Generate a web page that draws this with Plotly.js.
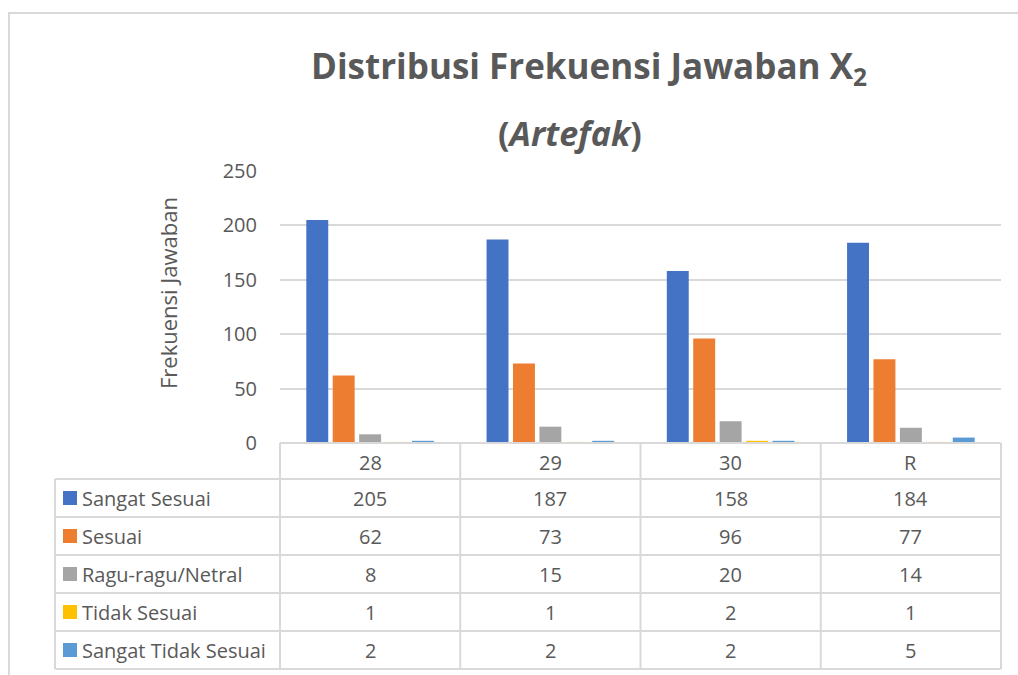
<!DOCTYPE html>
<html>
<head>
<meta charset="utf-8">
<script src="https://cdn.plot.ly/plotly-3.0.1.min.js"></script>
<style>html,body{margin:0;padding:0;background:#fff;}#chart{width:1018px;height:675px;}</style>
</head>
<body>
<div id="chart"></div>
<script>
const categories = ['28', '29', '30', 'R'];
const seriesNames = ['Sangat Sesuai', 'Sesuai', 'Ragu-ragu/Netral', 'Tidak Sesuai', 'Sangat Tidak Sesuai'];
const sangatSesuai = [205, 187, 158, 184];
const sesuai = [62, 73, 96, 77];
const raguRagu = [8, 15, 20, 14];
const tidakSesuai = [1, 1, 2, 1];
const sangatTidakSesuai = [2, 2, 2, 5];
const yTicks = [0, 50, 100, 150, 200, 250];

const seriesValues = [sangatSesuai, sesuai, raguRagu, tidakSesuai, sangatTidakSesuai];
const colors = ['#4472C4', '#ED7D31', '#A5A5A5', '#FFC000', '#5B9BD5'];

const W = 1018, H = 675;
const L = 280, R = 1001, T = 171, B = 443;
const px2x = p => (p - L) / (R - L);
const py2y = p => (B - p) / (B - T);
const FONT = 'Open Sans';
const TXT = '#595959';
const GRID = '#d9d9d9';
const FS = 20;

const traces = seriesNames.map((n, i) => ({
  type: 'bar', name: n, x: categories, y: seriesValues[i],
  marker: {color: colors[i], line: {width: 0}},
  hoverinfo: 'x+y+name'
}));

const shapes = [];
const annotations = [];
const line = (x0, y0, x1, y1, w, c) => shapes.push({type: 'line', xref: 'paper', yref: 'paper',
  x0: px2x(x0), y0: py2y(y0), x1: px2x(x1), y1: py2y(y1), line: {color: c || GRID, width: w || 2}});

// outer chart border
shapes.push({type: 'rect', xref: 'paper', yref: 'paper', x0: px2x(9), y0: py2y(13), x1: px2x(1030), y1: py2y(700),
  line: {color: GRID, width: 2}, fillcolor: 'rgba(0,0,0,0)', layer: 'below'});

// data table
const colW = (R - L) / categories.length;
const headTop = B, headBot = 479, rowH = 38, tabLeft = 55;
const tabBottom = headBot + rowH * seriesNames.length;
line(L, headTop, R, headTop);
for (let r = 0; r <= seriesNames.length; r++) line(tabLeft, headBot + r * rowH, R, headBot + r * rowH);
line(tabLeft, headBot, tabLeft, tabBottom);
for (let c = 0; c <= categories.length; c++) line(L + c * colW, headTop, L + c * colW, tabBottom);

categories.forEach((cat, c) => annotations.push({xref: 'paper', yref: 'paper', x: px2x(L + (c + 0.5) * colW),
  y: py2y((headTop + headBot) / 2 + 1), text: cat, showarrow: false, xanchor: 'center', yanchor: 'middle',
  font: {family: FONT, size: FS, color: TXT}}));

seriesNames.forEach((n, r) => {
  const yc = headBot + (r + 0.5) * rowH;
  shapes.push({type: 'rect', xref: 'paper', yref: 'paper', x0: px2x(63), x1: px2x(77), y0: py2y(yc - 7), y1: py2y(yc + 7),
    fillcolor: colors[r], line: {width: 0}});
  annotations.push({xref: 'paper', yref: 'paper', x: px2x(80), y: py2y(yc), text: n, showarrow: false,
    xanchor: 'left', yanchor: 'middle', font: {family: FONT, size: FS, color: TXT}});
  seriesValues[r].forEach((v, c) => annotations.push({xref: 'paper', yref: 'paper', x: px2x(L + (c + 0.5) * colW),
    y: py2y(yc), text: String(v), showarrow: false, xanchor: 'center', yanchor: 'middle',
    font: {family: FONT, size: FS, color: TXT}}));
});

// title
annotations.push({xref: 'paper', yref: 'paper', x: px2x(589), y: py2y(67), text: '<b>Distribusi Frekuensi Jawaban X<sub>2</sub></b>',
  showarrow: false, xanchor: 'center', yanchor: 'middle', font: {family: FONT, size: 35, color: TXT}});
annotations.push({xref: 'paper', yref: 'paper', x: px2x(570), y: py2y(133), text: '<b>(<i>Artefak</i>)</b>',
  showarrow: false, xanchor: 'center', yanchor: 'middle', font: {family: FONT, size: 34, color: TXT}});
// y axis title
annotations.push({xref: 'paper', yref: 'paper', x: px2x(168), y: py2y(293), text: 'Frekuensi Jawaban', textangle: -90,
  showarrow: false, xanchor: 'center', yanchor: 'middle', font: {family: FONT, size: 22, color: TXT}});

const layout = {
  width: W, height: H,
  margin: {l: L, r: W - R, t: T, b: H - B, pad: 0},
  paper_bgcolor: '#ffffff', plot_bgcolor: '#ffffff',
  showlegend: false,
  barmode: 'group', bargap: 0.267, bargroupgap: 0.17,
  xaxis: {type: 'category', range: [-0.5, 3.5], showticklabels: false, ticks: '', showgrid: false, zeroline: false, showline: false, fixedrange: true},
  yaxis: {range: [0, 250], tickvals: yTicks, ticktext: yTicks.map(String), showgrid: true, gridcolor: GRID, gridwidth: 2,
    zeroline: false, showline: false, ticks: '', ticklabelstandoff: 22,
    tickfont: {family: FONT, size: FS, color: TXT}, fixedrange: true},
  shapes: shapes, annotations: annotations,
  font: {family: FONT, color: TXT}
};

Plotly.newPlot('chart', traces, layout, {displayModeBar: false, staticPlot: true});
</script>
</body>
</html>
